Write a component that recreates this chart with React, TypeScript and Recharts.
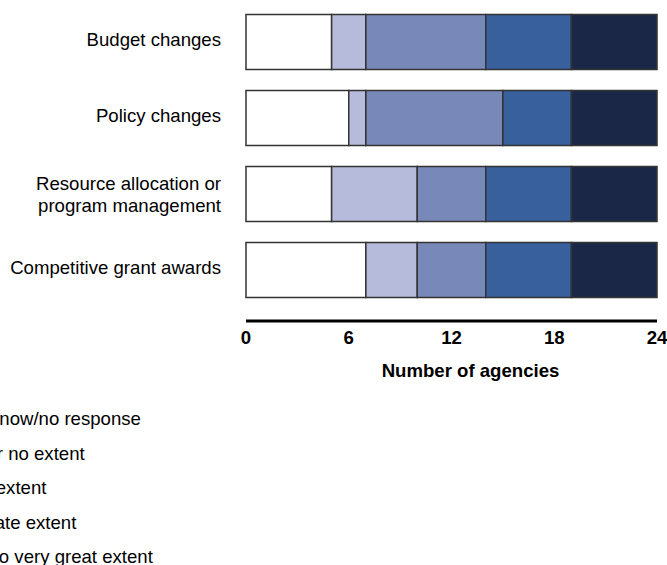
import React from "react";
import {
  Bar,
  BarChart,
  Legend,
  XAxis,
  YAxis,
} from "recharts";

const categories = [
  "Budget changes",
  "Policy changes",
  "Resource allocation or program management",
  "Competitive grant awards",
];
const dontKnow = [5, 6, 5, 7];
const littleOrNone = [2, 1, 5, 3];
const someExtent = [7, 8, 4, 4];
const moderateExtent = [5, 4, 5, 5];
const greatExtent = [5, 5, 5, 5];
const xTicks = [0, 6, 12, 18, 24];

const series = [
  { key: "dontKnow", name: "Don't know/no response", color: "#ffffff" },
  { key: "littleOrNone", name: "Little or no extent", color: "#b7bbdb" },
  { key: "someExtent", name: "Some extent", color: "#7889b9" },
  { key: "moderateExtent", name: "Moderate extent", color: "#38609c" },
  { key: "greatExtent", name: "Great to very great extent", color: "#1a2747" },
];

const data = categories.map((name, i) => ({
  name,
  dontKnow: dontKnow[i],
  littleOrNone: littleOrNone[i],
  someExtent: someExtent[i],
  moderateExtent: moderateExtent[i],
  greatExtent: greatExtent[i],
}));

const font = "'Liberation Sans', Arial, sans-serif";
const fs = 18.6;

// greedy wrap by character count
function wrap(label: string, max: number) {
  const lines: string[] = [];
  let cur = "";
  label.split(" ").forEach((w) => {
    const next = cur ? cur + " " + w : w;
    if (next.length > max && cur) {
      lines.push(cur);
      cur = w;
    } else {
      cur = next;
    }
  });
  if (cur) lines.push(cur);
  return lines;
}

const CategoryTick = (props: any) => {
  const { x, y, payload } = props;
  const lines = wrap(payload.value, 24);
  const lh = 22;
  const startY = y + 4.5 - (lines.length - 1) * 8;
  return (
    <text
      x={x}
      y={startY}
      textAnchor="end"
      fontSize={fs}
      fontFamily={font}
      fill="#000"
    >
      {lines.map((l, i) => (
        <tspan key={i} x={x} y={startY + i * lh}>
          {l}
        </tspan>
      ))}
    </text>
  );
};

const AxisTitle = (props: any) => {
  const { viewBox } = props;
  return (
    <text
      x={viewBox.x + viewBox.width / 2 + 19}
      y={viewBox.y + 56}
      textAnchor="middle"
      fontSize={fs}
      fontWeight="bold"
      fontFamily={font}
      fill="#000"
    >
      Number of agencies
    </text>
  );
};

const LegendList = () => (
  <div style={{ fontFamily: font, fontSize: fs, color: "#000" }}>
    {series.map((s) => (
      <div
        key={s.key}
        style={{ display: "flex", alignItems: "center", height: 34.5 }}
      >
        <span
          style={{
            display: "inline-block",
            width: 18,
            height: 18,
            background: s.color,
            border: "1.5px solid #333",
            marginRight: 10,
          }}
        />
        <span style={{ whiteSpace: "nowrap" }}>{s.name}</span>
      </div>
    ))}
  </div>
);

export default function App() {
  return (
    <div style={{ position: "absolute", left: 0, top: 0 }}>
      <BarChart
        width={667}
        height={565}
        data={data}
        layout="vertical"
        margin={{ top: 3.5, right: 10, left: 0, bottom: 184 }}
      >
        <XAxis
          type="number"
          domain={[0, 24]}
          ticks={xTicks}
          interval={0}
          height={60}
          axisLine={{ stroke: "#000", strokeWidth: 3 }}
          tickLine={false}
          tickSize={0}
          tickMargin={10}
          tick={{ fontSize: fs, fontWeight: "bold", fill: "#000", fontFamily: font }}
          label={<AxisTitle />}
        />
        <YAxis
          type="category"
          dataKey="name"
          width={246}
          axisLine={false}
          tickLine={false}
          tickSize={0}
          tickMargin={25}
          padding={{ top: 0, bottom: 13.5 }}
          tick={<CategoryTick />}
        />
        <Legend
          layout="vertical"
          align="center"
          verticalAlign="middle"
          content={<LegendList />}
          wrapperStyle={{ left: -88, top: 402, width: 400, height: 180 }}
        />
        {series.map((s) => (
          <Bar
            key={s.key}
            dataKey={s.key}
            name={s.name}
            stackId="a"
            fill={s.color}
            stroke="#333"
            strokeWidth={1.5}
            barSize={55}
            isAnimationActive={false}
          />
        ))}
      </BarChart>
    </div>
  );
}
